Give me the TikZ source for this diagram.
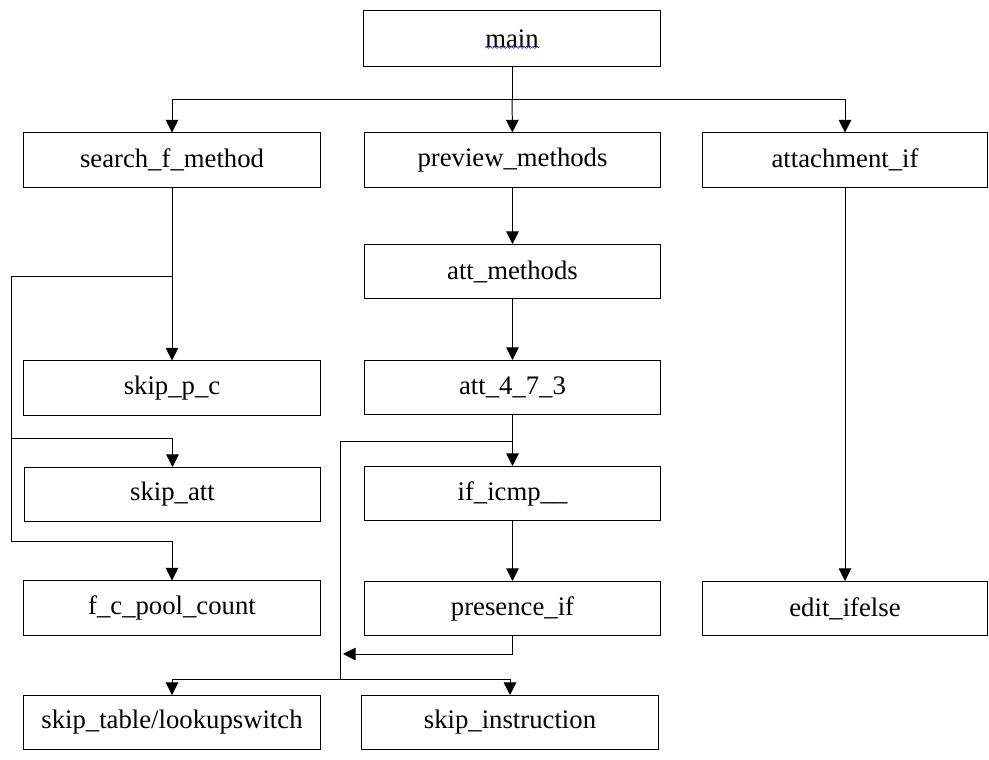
\documentclass[tikz,border=0pt]{standalone}
\usepackage{fontspec}
\setmainfont{Liberation Serif}
\usetikzlibrary{arrows.meta, calc, decorations.pathmorphing}

\begin{document}
\begin{tikzpicture}[x=0.025cm, y=-0.025cm,
    fnbox/.style={draw, line width=0.7pt, minimum width=7.4cm, minimum height=1.35cm,
      inner sep=0pt, font=\fontsize{19}{22}\selectfont},
    wide/.style={minimum width=7.12cm},
    link/.style={line width=0.7pt},
    arr/.style={link, -{Triangle[length=9pt, width=9pt]}}]
    \useasboundingbox (0,0) rectangle (989,760);
    \node[fnbox, minimum height=1.42cm] (main) at (512,38.5) {main};
    \node[fnbox] (search) at (172,160) {search\_f\_method};
    \node[fnbox] (preview) at (512.5,160) {preview\_methods};
    \node[fnbox, wide] (attach) at (845,160) {attachment\_if};
    \node[fnbox] (attm) at (512.5,271.5) {att\_methods};
    \node[fnbox] (att473) at (512.5,387.5) {att\_4\_7\_3};
    \node[fnbox] (ificmp) at (512.5,493.5) {if\_icmp\_\_};
    \node[fnbox] (presence) at (512.5,608.5) {presence\_if};
    \node[fnbox] (skippc) at (172,388) {skip\_p\_c};
    \node[fnbox] (skipatt) at (172.5,494.5) {skip\_att};
    \node[fnbox] (fcpool) at (172,608) {f\_c\_pool\_count};
    \node[fnbox, wide] (edit) at (845,608.5) {edit\_ifelse};
    \node[fnbox] (skiptable) at (172,722.5) {skip\_table/lookupswitch};
    \node[fnbox] (skipinstr) at (510,722.5) {skip\_instruction};
    \draw[blue!80, line width=0.5pt, decorate, decoration={snake, segment length=3pt, amplitude=0.6pt}]
      ($(main.center)+(-27,9)$) -- ($(main.center)+(27,9)$);
    \coordinate (topbus) at (0,99);
    \coordinate (lt) at (11,276);
    \coordinate (lm) at (11,438);
    \coordinate (lb) at (11,541);
    \coordinate (mt) at (340,441);
    \coordinate (mb) at (340,679);
    \coordinate (mr) at (343,654);
    \draw[link] (main.south) -- (main.south |- topbus);
    \draw[arr] (main.south |- topbus) -| (search.north);
    \draw[arr] (main.south |- topbus) -- (preview.north);
    \draw[arr] (main.south |- topbus) -| (attach.north);
    \draw[arr] (search.south) -- (skippc.north);
    \draw[link] (search.south |- lt) -- (lt) -- (lb);
    \draw[arr] (lm) -| (skipatt.north);
    \draw[arr] (lb) -| (fcpool.north);
    \draw[arr] (preview.south) -- (attm.north);
    \draw[arr] (attm.south) -- (att473.north);
    \draw[arr] (att473.south) -- (ificmp.north);
    \draw[arr] (ificmp.south) -- (presence.north);
    \draw[link] (att473.south |- mt) -- (mt) -- (mb);
    \draw[arr] (presence.south) |- (mr);
    \draw[arr] (mb) -| (skiptable.north);
    \draw[arr] (mb) -| (skipinstr.north);
    \draw[arr] (attach.south) -- (edit.north);
  \end{tikzpicture}
\end{document}
